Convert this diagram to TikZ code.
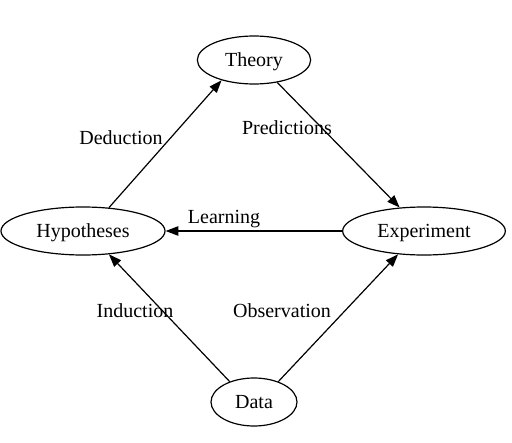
\documentclass[tikz,border=0pt]{standalone}
\usepackage{fontspec}
\setmainfont{Liberation Serif}
\usetikzlibrary{positioning}
\usetikzlibrary{arrows.meta}
\usetikzlibrary{shapes.geometric}

\begin{document}
\begin{tikzpicture}
[
x=0.75pt, y=-0.75pt,
state/.style={ellipse, draw, line width=0.9pt, inner sep=0pt, minimum height = 36pt, text height=13pt, text depth=3.5pt, font=\fontsize{15pt}{17pt}\selectfont},
text-a/.style={black, inner sep=0pt, font=\fontsize{15pt}{17pt}\selectfont},
flow/.style={-{Triangle[length=9.5pt, width=7pt]}, line width=0.9pt},
]
\useasboundingbox (0,0) rectangle (512,443);
\node (th)  [state, minimum width = 85pt] at (254,60) {Theory};
\node (hy)  [state, minimum width = 123pt] at (83,231) {Hypotheses};
\node (ex)  [state, minimum width = 122pt] at (424,231) {Experiment};
\node (da)  [state, minimum width = 64.5pt] at (254,402) {Data};
\node (ded) [text-a] at (121,138) {Deduction};
\node (pre) [text-a] at (287,128) {Predictions};
\node (lea) [text-a] at (224,219) {Learning};
\node (ind) [text-a] at (135,311) {Induction};
\node (obs) [text-a] at (282,311) {Observation};
\draw [flow] (hy.42) -- (th.212);
\draw [flow] (th.-44) -- (ex.136);
\draw [flow] (ex.west) -- (hy.east);
\draw [flow] (da.140) -- (hy.-42);
\draw [flow] (da.40) -- (ex.222);
\end{tikzpicture}
\end{document}
